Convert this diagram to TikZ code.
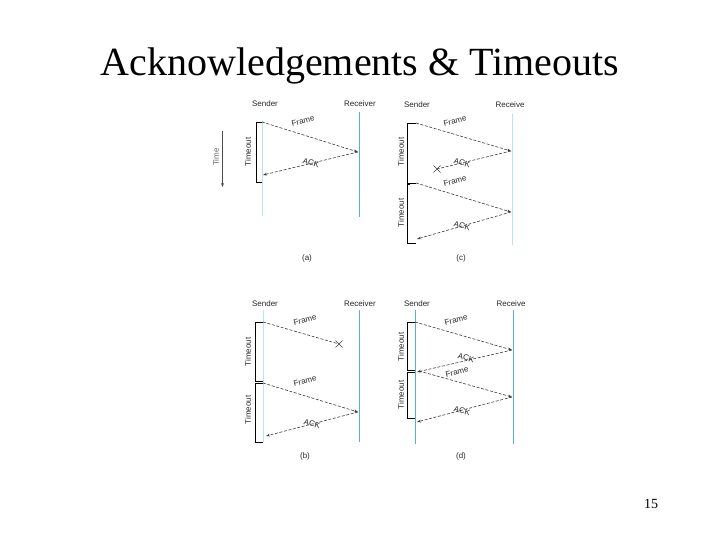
\documentclass[tikz,border=0pt]{standalone}
\usepackage{fontspec}
\setmainfont{Liberation Serif}
\newfontfamily\lsans{Liberation Sans}
\usetikzlibrary{arrows.meta,calc}
\definecolor{lightln}{RGB}{190,226,232}
\definecolor{tealln}{RGB}{85,180,194}
\definecolor{arrgray}{RGB}{60,60,60}
\tikzset{
  lbl/.style={font=\lsans\fontsize{8}{9}\selectfont, text=black!85, inner sep=0pt},
  msg/.style={draw=arrgray, line width=0.6pt, dash pattern=on 3pt off 1.6pt, -{Stealth[length=4pt,width=2.8pt]}},
  lost/.style={draw=arrgray, line width=0.6pt, dash pattern=on 3pt off 1.6pt},
  tmo/.style={draw=black, line width=0.8pt},
  sline/.style={draw=lightln, line width=1pt},
  rline/.style={draw=tealln, line width=1.2pt},
  flab/.style={lbl, rotate=14},
  alab/.style={lbl, rotate=-14},
  tlab/.style={lbl, rotate=90},
  xmark/.style={draw=arrgray, line width=0.6pt}
}
\begin{document}
\begin{tikzpicture}[x=1pt,y=-1pt]
\useasboundingbox (0,0) rectangle (720,540);
\node[font=\fontsize{40}{44}\selectfont, inner sep=0pt] (title) at (360,66) {Acknowledgements \& Timeouts};
\node[font=\fontsize{14}{16}\selectfont, inner sep=0pt] (pg) at (651,504) {15};

% ---------- (a) ----------
\node[lbl] (aS) at (265,104) {Sender};
\node[lbl] (aR) at (360,104) {Receiver};
\coordinate (aS1) at (262.5,121); \coordinate (aS2) at (262.5,216);
\coordinate (aR1) at (359.5,112); \coordinate (aR2) at (359.5,217);
\draw[sline] (aS1) -- (aS2);
\draw[rline] (aR1) -- (aR2);
\coordinate (aF1) at (262,122); \coordinate (aF1e) at (358,152);
\coordinate (aA1e) at (263,175);
\draw[msg] (aF1) -- (aF1e);
\draw[msg] (aF1e) -- (aA1e);
\node[flab] (aFl) at (303,121) {Frame};
\node[alab] (aAl) at (311,163) {ACK};
\draw[tmo] (262,122) -- (256,122) -- (256,182) -- (262,182);
\node[tlab] (aT) at (248,152) {Timeout};
\coordinate (tA) at (222.5,131); \coordinate (tB) at (222.5,187);
\draw[draw=black!70, line width=0.7pt, -{Stealth[length=4pt,width=3pt]}] (tA) -- (tB);
\node[tlab, text=black!60] (tL) at (216,157) {Time};
\node[lbl] (aC) at (307,258) {(a)};

% ---------- (c) ----------
\node[lbl] (cS) at (417,105) {Sender};
\node[lbl] (cR) at (510,105) {Receive};
\coordinate (cR1) at (512.5,114); \coordinate (cR2) at (512.5,245);
\draw[sline] (cR1) -- (cR2);
\coordinate (cF1) at (416,123); \coordinate (cF1e) at (511,151);
\coordinate (cX) at (437,169);
\coordinate (cF2) at (416,183); \coordinate (cF2e) at (511,212);
\coordinate (cA2e) at (417,239);
\draw[msg] (cF1) -- (cF1e);
\draw[lost] (cF1e) -- (cX);
\draw[xmark] ($(cX)+(-3.5,-3.5)$) -- ($(cX)+(3.5,3.5)$) ($(cX)+(-3.5,3.5)$) -- ($(cX)+(3.5,-3.5)$);
\draw[msg] (cF2) -- (cF2e);
\draw[msg] (cF2e) -- (cA2e);
\node[flab] (cFl1) at (455,121) {Frame};
\node[alab] (cAl1) at (462,163) {ACK};
\node[flab] (cFl2) at (455,181) {Frame};
\node[alab] (cAl2) at (462,226) {ACK};
\draw[tmo] (416,123) -- (407,123) -- (407,183) -- (416,183);
\draw[tmo] (410,184) -- (407,184) -- (407,243) -- (416,243);
\node[tlab] (cT1) at (401,152) {Timeout};
\node[tlab] (cT2) at (401,213) {Timeout};
\node[lbl] (cC) at (461,258) {(c)};

% ---------- (b) ----------
\node[lbl] (bS) at (265,304) {Sender};
\node[lbl] (bR) at (360,304) {Receiver};
\coordinate (bS1) at (263.5,310); \coordinate (bS2) at (263.5,442);
\coordinate (bR1) at (359.5,310); \coordinate (bR2) at (359.5,442);
\draw[sline] (bS1) -- (bS2);
\draw[rline] (bR1) -- (bR2);
\coordinate (bF1) at (263,322); \coordinate (bX) at (339,344);
\coordinate (bF2) at (263,383); \coordinate (bF2e) at (358,412);
\coordinate (bA2e) at (266,436);
\draw[lost] (bF1) -- (bX);
\draw[xmark] ($(bX)+(-3.5,-3.5)$) -- ($(bX)+(3.5,3.5)$) ($(bX)+(-3.5,3.5)$) -- ($(bX)+(3.5,-3.5)$);
\draw[msg] (bF2) -- (bF2e);
\draw[msg] (bF2e) -- (bA2e);
\node[flab] (bFl1) at (305,320) {Frame};
\node[flab] (bFl2) at (305,381) {Frame};
\node[alab] (bAl2) at (312,424) {ACK};
\draw[tmo] (263,322) -- (255,322) -- (255,381) -- (263,381);
\draw[tmo] (263,383) -- (255,383) -- (255,442) -- (263,442);
\node[tlab] (bT1) at (248,352) {Timeout};
\node[tlab] (bT2) at (248,410) {Timeout};
\node[lbl] (bC) at (305,456) {(b)};

% ---------- (d) ----------
\node[lbl] (dS) at (417,304) {Sender};
\node[lbl] (dR) at (511,304) {Receive};
\coordinate (dS1) at (415.5,310); \coordinate (dS2) at (415.5,444);
\coordinate (dR1) at (513.5,310); \coordinate (dR2) at (513.5,444);
\draw[rline] (dS1) -- (dS2);
\draw[rline] (dR1) -- (dR2);
\coordinate (dF1) at (415,322); \coordinate (dF1e) at (512,350);
\coordinate (dA1e) at (417,372);
\coordinate (dF2) at (419,371); \coordinate (dF2e) at (512,397);
\coordinate (dA2e) at (417,422);
\draw[msg] (dF1) -- (dF1e);
\draw[msg] (dF1e) -- (dA1e);
\draw[msg] (dF2) -- (dF2e);
\draw[msg] (dF2e) -- (dA2e);
\node[flab] (dFl1) at (456,320) {Frame};
\node[alab] (dAl1) at (466,358) {ACK};
\node[flab] (dFl2) at (457,372) {Frame};
\node[alab] (dAl2) at (462,411) {ACK};
\draw[tmo] (415,322) -- (407,322) -- (407,370) -- (415,370);
\draw[tmo] (415,372) -- (407,372) -- (407,418) -- (415,418);
\node[tlab] (dT1) at (401,347) {Timeout};
\node[tlab] (dT2) at (401,395) {Timeout};
\node[lbl] (dC) at (461,456) {(d)};
\end{tikzpicture}
\end{document}
